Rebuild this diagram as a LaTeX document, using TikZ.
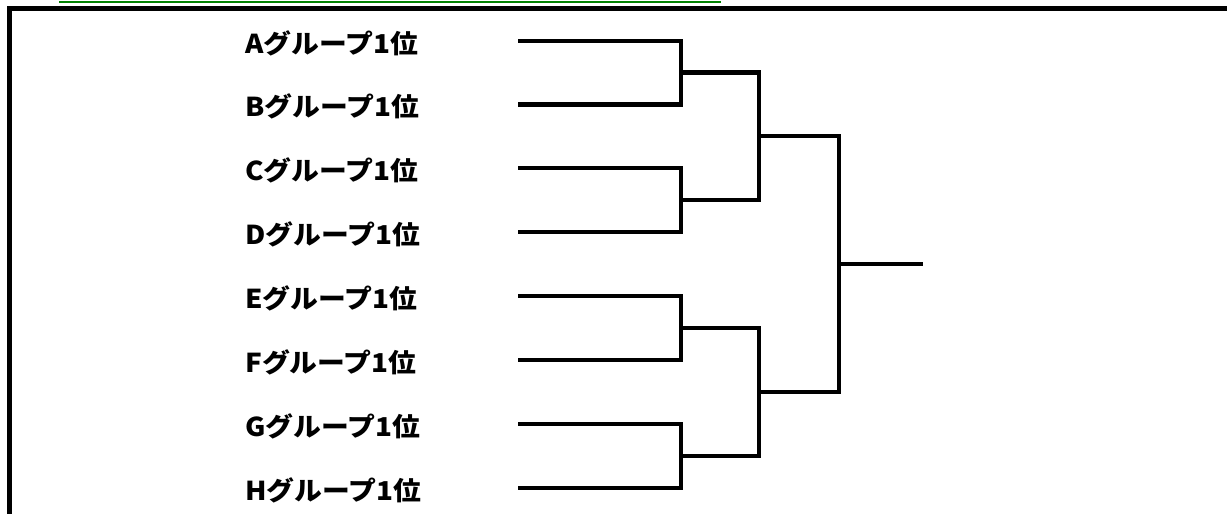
\documentclass[tikz,border=0pt]{standalone}
\usepackage{fontspec}
\newfontfamily\jp{Noto Sans CJK JP}
\definecolor{ulgreen}{RGB}{0,128,0}
\begin{document}
\begin{tikzpicture}[x=1pt,y=-1pt,
  bk/.style={line width=4.7pt, line join=miter, black},
  lbl/.style={anchor=west, inner sep=0pt, font=\jp\bfseries\fontsize{26}{30}\selectfont}]
\useasboundingbox (0,0) rectangle (1227,514);
% frame and green underline
\draw[line width=4.4pt] (9.5,530) -- (9.5,8.3) -- (1240,8.3);
\draw[ulgreen, line width=1.8pt] (59,1.6) -- (721,1.6);
% labels and start points
\foreach \n/\y in {A/41,B/104.5,C/168,D/232,E/296,F/360,G/424,H/488}{
  \node[lbl] (L\n) at (245,\y+2) {\scalebox{1.07}[1]{\n グループ1位}};
  \coordinate (s\n) at (518,\y);
}
% junctions
\coordinate (m1) at (681,72.5);
\coordinate (m2) at (681,200);
\coordinate (m3) at (681,328);
\coordinate (m4) at (681,456);
\coordinate (q1) at (759,136);
\coordinate (q2) at (759,392);
\coordinate (f) at (839,264);
\coordinate (w) at (923,264);
\draw[bk] (sA) -| (m1) |- (sB);
\draw[bk] (sC) -| (m2) |- (sD);
\draw[bk] (sE) -| (m3) |- (sF);
\draw[bk] (sG) -| (m4) |- (sH);
\draw[bk] (m1) -| (q1) |- (m2);
\draw[bk] (m3) -| (q2) |- (m4);
\draw[bk] (q1) -| (f) |- (q2);
\draw[bk] (f) -- (w);
\end{tikzpicture}
\end{document}
